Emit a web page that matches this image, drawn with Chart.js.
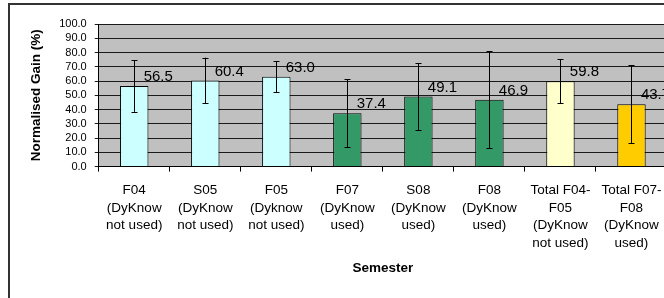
<!DOCTYPE html>
<html lang="en">
<head>
    <meta charset="UTF-8">
    <title>Normalised Gain by Semester</title>
    <script src="https://cdn.jsdelivr.net/npm/chart.js"></script>
    <style>
        body { margin: 0; overflow: hidden; background: #fff; }
        #wrap { width: 672px; height: 298px; }
    </style>
</head>
<body>
    <div id="wrap">
        <canvas id="gainChart" width="672" height="298"></canvas>
    </div>
    <script>
        // Categories (one array of lines per bar)
        const semesters = [
            ["F04", "(DyKnow", "not used)"],
            ["S05", "(DyKnow", "not used)"],
            ["F05", "(Dyknow", "not used)"],
            ["F07", "(DyKnow", "used)"],
            ["S08", "(DyKnow", "used)"],
            ["F08", "(DyKnow", "used)"],
            ["Total F04-", "F05", "(DyKnow", "not used)"],
            ["Total F07-", "F08", "(DyKnow", "used)"]
        ];
        // Normalised gain (%)
        const gainValues = [56.5, 60.4, 63.0, 37.4, 49.1, 46.9, 59.8, 43.7];
        // Error bar half-widths
        const gainErrors = [18.1, 16.0, 10.8, 23.7, 23.6, 34.0, 15.5, 27.5];
        const barColors = ["#CCFFFF", "#CCFFFF", "#CCFFFF", "#339966", "#339966", "#339966", "#FFFFCC", "#FFCC00"];
        const yTicks = [0, 10, 20, 30, 40, 50, 60, 70, 80, 90, 100];

        const FONT = "Arial, 'Liberation Sans', sans-serif";

        // Outer frame and grey plot background
        const backdrop = {
            id: "backdrop",
            beforeDraw(chart) {
                const ctx = chart.ctx;
                const a = chart.chartArea;
                ctx.save();
                ctx.fillStyle = "#fff";
                ctx.fillRect(0, 0, chart.width, chart.height);
                ctx.strokeStyle = "#333";
                ctx.lineWidth = 2;
                ctx.strokeRect(9, 4, 800, 400);
                ctx.fillStyle = "#C0C0C0";
                ctx.fillRect(a.left, a.top, a.right - a.left, a.bottom - a.top);
                ctx.restore();
            }
        };

        // Error bars and value labels
        const extras = {
            id: "extras",
            afterDatasetsDraw(chart) {
                const ctx = chart.ctx;
                const y = chart.scales.y;
                const meta = chart.getDatasetMeta(0);
                ctx.save();
                ctx.strokeStyle = "#000";
                ctx.lineWidth = 1;
                meta.data.forEach((bar, i) => {
                    const x = Math.round(bar.x) + 0.5;
                    const top = y.getPixelForValue(gainValues[i] + gainErrors[i]);
                    const bot = y.getPixelForValue(gainValues[i] - gainErrors[i]);
                    ctx.beginPath();
                    ctx.moveTo(x, top);
                    ctx.lineTo(x, bot);
                    ctx.moveTo(x - 3, Math.round(top) + 0.5);
                    ctx.lineTo(x + 3, Math.round(top) + 0.5);
                    ctx.moveTo(x - 3, Math.round(bot) + 0.5);
                    ctx.lineTo(x + 3, Math.round(bot) + 0.5);
                    ctx.stroke();
                });
                ctx.fillStyle = "#000";
                ctx.font = "15px " + FONT;
                ctx.textAlign = "center";
                ctx.textBaseline = "middle";
                meta.data.forEach((bar, i) => {
                    ctx.fillText(gainValues[i].toFixed(1), bar.x + 24, bar.y - 9);
                });
                ctx.restore();
            }
        };

        new Chart(document.getElementById("gainChart"), {
            type: "bar",
            data: {
                labels: semesters,
                datasets: [{
                    data: gainValues,
                    backgroundColor: barColors,
                    borderColor: "#000",
                    borderWidth: 1,
                    barPercentage: 0.4,
                    categoryPercentage: 1.0
                }]
            },
            options: {
                responsive: false,
                animation: false,
                layout: { padding: { left: 28, right: 5, top: 24, bottom: 22 } },
                plugins: {
                    legend: { display: false },
                    tooltip: { enabled: false }
                },
                scales: {
                    x: {
                        grid: {
                            offset: true,
                            drawOnChartArea: false,
                            tickLength: 5,
                            color: "#000"
                        },
                        border: { color: "#000", width: 1 },
                        ticks: {
                            autoSkip: false,
                            maxRotation: 0,
                            padding: 10,
                            color: "#000",
                            font: { family: FONT, size: 13.5, lineHeight: 1.3 }
                        },
                        title: {
                            display: true,
                            text: "Semester",
                            color: "#000",
                            padding: { top: -2, bottom: 0 },
                            font: { family: FONT, size: 13.5, weight: "bold" }
                        }
                    },
                    y: {
                        min: 0,
                        max: 100,
                        afterBuildTicks(axis) {
                            axis.ticks = yTicks.map(v => ({ value: v }));
                        },
                        grid: {
                            color: "#1a1a1a",
                            tickLength: 4
                        },
                        border: { color: "#000", width: 1 },
                        ticks: {
                            autoSkip: false,
                            padding: 8,
                            color: "#000",
                            font: { family: FONT, size: 11 },
                            callback: v => Number(v).toFixed(1)
                        },
                        title: {
                            display: true,
                            text: "Normalised Gain (%)",
                            color: "#000",
                            padding: { top: 0, bottom: 7 },
                            font: { family: FONT, size: 13.5, weight: "bold" }
                        }
                    }
                }
            },
            plugins: [backdrop, extras]
        });
    </script>
</body>
</html>
